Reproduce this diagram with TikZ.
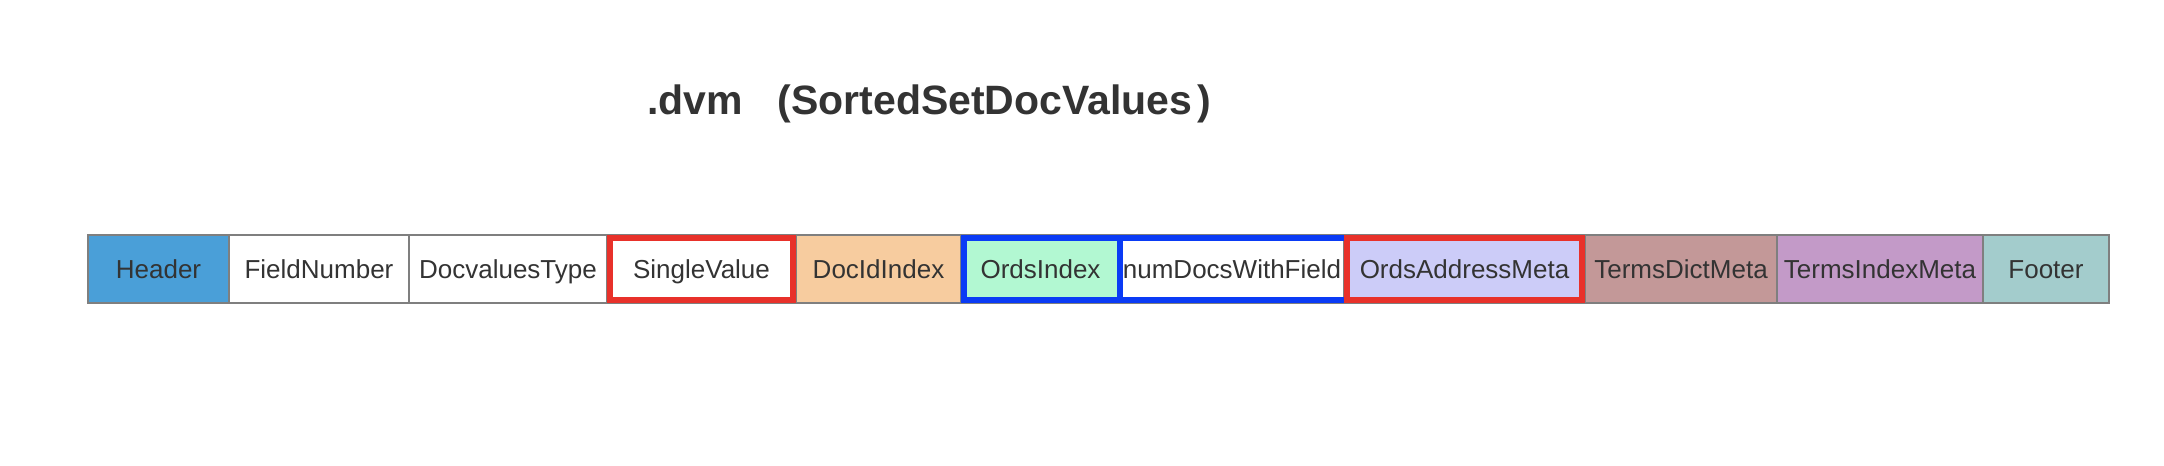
\documentclass[tikz,border=0pt]{standalone}
\usepackage{fontspec}
\setmainfont{Liberation Sans}
\usetikzlibrary{positioning}
\definecolor{txt}{HTML}{333333}
\definecolor{bordergray}{HTML}{7F7F7F}
\definecolor{hlred}{HTML}{E8312A}
\definecolor{hlblue}{HTML}{0A3BF5}
\definecolor{cHeader}{HTML}{4A9FD8}
\definecolor{cDocId}{HTML}{F7CC9F}
\definecolor{cOrds}{HTML}{B2F8D2}
\definecolor{cAddr}{HTML}{CCCCF8}
\definecolor{cDict}{HTML}{C39898}
\definecolor{cTIdx}{HTML}{C39AC8}
\definecolor{cFoot}{HTML}{A3CCCC}
\tikzset{
  cell/.style={draw=bordergray, line width=1pt, rectangle, inner sep=0pt, outer sep=0pt,
    minimum height=34pt, text=txt, font=\fontsize{13}{15}\selectfont,
    text height=9.3pt, text depth=0pt},
  redframe/.style={draw=hlred, line width=3pt},
  blueframe/.style={draw=hlblue, line width=3pt},
  titlestyle/.style={text=txt, font=\fontsize{20.5}{24}\selectfont\bfseries, inner sep=0pt, anchor=base}
}
\begin{document}
\begin{tikzpicture}[x=0.5pt,y=-0.5pt]
\useasboundingbox[fill=white] (0,0) rectangle (2164,466);
\node[titlestyle] (title) at (929,114) {.dvm\hspace{0.85em}(SortedSetDocValues\hspace{0.12em})};
\node[cell, fill=cHeader, minimum width=70.5pt] (h) at (158.5,269) {Header};
\node[cell, fill=white, minimum width=90pt] (fn) at (319,269) {FieldNumber};
\node[cell, fill=white, minimum width=99pt] (dt) at (508,269) {DocvaluesType};
\node[cell, fill=white, minimum width=94.5pt] (sv) at (701.5,269) {SingleValue};
\node[cell, fill=cDocId, minimum width=82.5pt] (di) at (878.5,269) {DocIdIndex};
\node[cell, fill=cOrds, minimum width=79.5pt] (oi) at (1040.5,269) {OrdsIndex};
\node[cell, fill=white, minimum width=112pt] (nd) at (1232,269) {numDocsWithField};
\node[cell, fill=cAddr, minimum width=120.5pt] (oa) at (1464.5,269) {OrdsAddressMeta};
\node[cell, fill=cDict, minimum width=96pt] (td) at (1681,269) {TermsDictMeta};
\node[cell, fill=cTIdx, minimum width=103pt] (ti) at (1880,269) {TermsIndexMeta};
\node[cell, fill=cFoot, minimum width=63pt] (ft) at (2046,269) {Footer};
% highlight frames
\draw[blueframe] ([xshift=1.5pt,yshift=-1.5pt]oi.north west) rectangle ([yshift=1.5pt]oi.south east);
\draw[blueframe] ([yshift=-1.5pt]nd.north west) rectangle ([xshift=1.5pt,yshift=1.5pt]nd.south east);
\draw[redframe] ([xshift=1.5pt,yshift=-1.5pt]sv.north west) rectangle ([xshift=-1.5pt,yshift=1.5pt]sv.south east);
\draw[redframe] ([xshift=1.5pt,yshift=-1.5pt]oa.north west) rectangle ([xshift=-1.5pt,yshift=1.5pt]oa.south east);
\end{tikzpicture}
\end{document}
